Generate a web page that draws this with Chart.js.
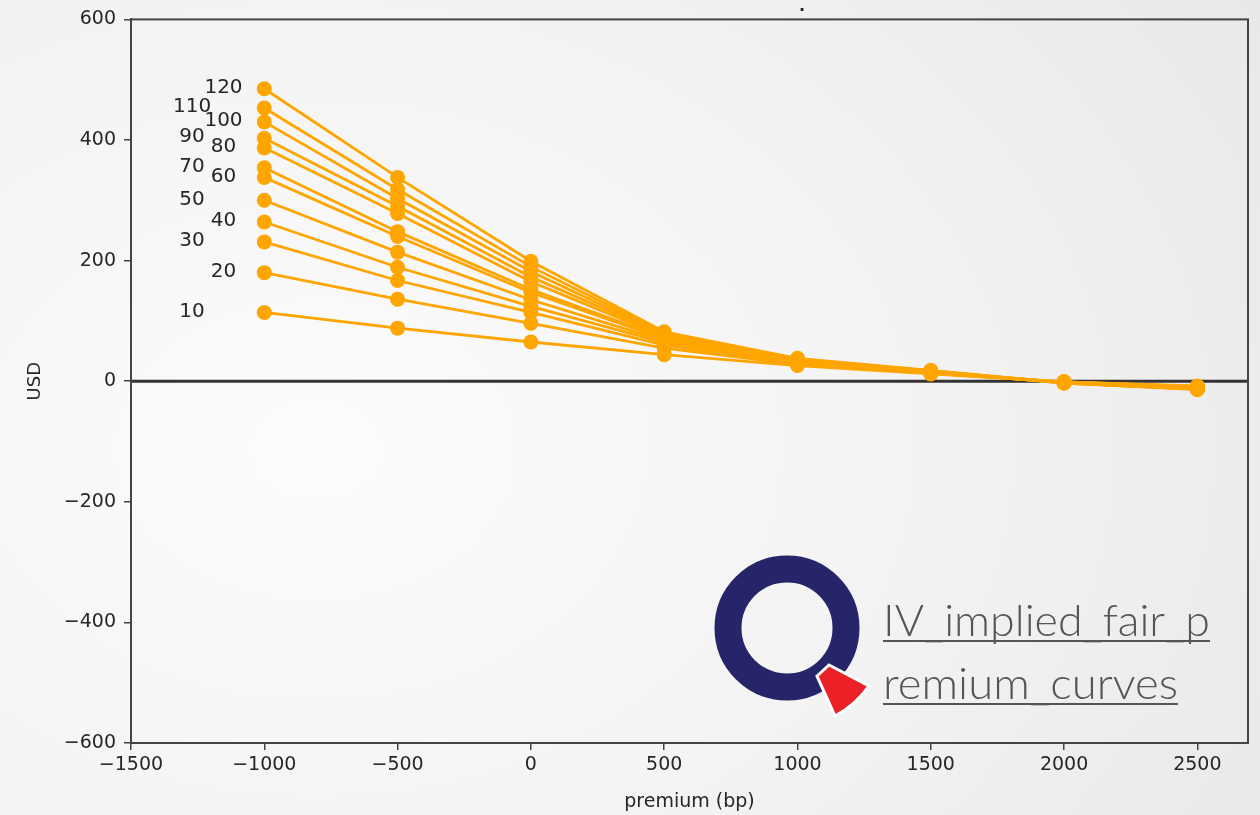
<!DOCTYPE html>
<html>
<head>
<meta charset="utf-8">
<script src="https://cdn.jsdelivr.net/npm/chart.js@4/dist/chart.umd.min.js"></script>
<style>
    html, body { margin: 0; padding: 0; }
    body {
        width: 1260px; height: 815px; overflow: hidden; position: relative;
        background: radial-gradient(ellipse 95% 110% at 25% 55%, #fcfcfc 0%, #f3f3f3 50%, #e7e7e7 100%);
    }
    #wrap { position: absolute; left: 0; top: 0; width: 1260px; height: 815px; }
    #logo { position: absolute; left: 0; top: 0; }
</style>
</head>
<body>
<div id="wrap"><canvas id="chart" width="1260" height="815"></canvas></div>
<svg id="logo" width="1260" height="815">
    <circle cx="787" cy="628" r="59" fill="none" stroke="#27256a" stroke-width="27"/>
    <path d="M829,665 L869,686 A100,100 0 0 1 835,716 L817,676 Z" fill="#ec2027" stroke="#ffffff" stroke-width="3"/>
    <g font-family="Lato, 'Open Sans', sans-serif" font-weight="300" font-size="44" fill="#555555">
        <text x="883" y="636" textLength="327" lengthAdjust="spacingAndGlyphs">IV_implied_fair_p</text>
        <text x="883" y="699" textLength="295" lengthAdjust="spacingAndGlyphs">remium_curves</text>
    </g>
    <rect x="883" y="640" width="327" height="2" fill="#555555"/>
    <rect x="883" y="703" width="295" height="2" fill="#555555"/>
</svg>
<script>
// premium (bp) on the x axis
var premiums = [-1000, -500, 0, 500, 1000, 1500, 2000, 2500];
var curveNames = ["10", "20", "30", "40", "50", "60", "70", "80", "90", "100", "110", "120"];

var usd10  = [114,  88,  65, 44, 26, 12, -1,  -8];
var usd20  = [180, 136,  96, 55, 28, 13, -1,  -9];
var usd30  = [231, 167, 114, 60, 30, 13, -1,  -9];
var usd40  = [264, 189, 124, 64, 31, 14, -2, -10];
var usd50  = [300, 214, 135, 67, 32, 14, -2, -10];
var usd60  = [338, 240, 147, 70, 33, 15, -2, -11];
var usd70  = [354, 248, 152, 72, 34, 15, -2, -11];
var usd80  = [387, 278, 165, 74, 35, 16, -2, -12];
var usd90  = [403, 290, 173, 76, 35, 16, -3, -12];
var usd100 = [430, 303, 182, 78, 36, 17, -3, -13];
var usd110 = [453, 318, 190, 80, 37, 17, -3, -13];
var usd120 = [485, 338, 199, 82, 38, 18, -3, -14];

var curves = [usd10, usd20, usd30, usd40, usd50, usd60, usd70, usd80, usd90, usd100, usd110, usd120];

// where the curve names sit (x in bp), odd ones further left
var labelXOdd = -1271;
var labelXEven = -1153;

var yTicks = [-600, -400, -200, 0, 200, 400, 600];
var xTicks = [-1500, -1000, -500, 0, 500, 1000, 1500, 2000, 2500];

var txtColor = "#262626";
var spineColor = "#444444";

function fmt(v) {
    return v < 0 ? "\u2212" + Math.abs(v) : String(v);
}

var datasets = curves.map(function (vals, i) {
    return {
        label: curveNames[i],
        data: vals.map(function (v, j) { return {x: premiums[j], y: v}; }),
        borderColor: "#FFA500",
        backgroundColor: "#FFA500",
        borderWidth: 2.8,
        pointRadius: 7.5,
        pointBorderWidth: 0,
        pointHoverRadius: 7.5,
        tension: 0
    };
});

var framePlugin = {
    id: "frame",
    beforeDatasetsDraw: function (chart) {
        var ctx = chart.ctx, a = chart.chartArea;
        var y0 = chart.scales.y.getPixelForValue(0);
        ctx.save();
        ctx.strokeStyle = "#333333";
        ctx.lineWidth = 3;
        ctx.beginPath();
        ctx.moveTo(a.left, y0);
        ctx.lineTo(a.right, y0);
        ctx.stroke();
        ctx.restore();
    },
    afterDraw: function (chart) {
        var ctx = chart.ctx, a = chart.chartArea;
        var sx = chart.scales.x, sy = chart.scales.y;
        ctx.save();
        ctx.strokeStyle = spineColor;
        ctx.lineWidth = 2;
        ctx.strokeRect(a.left, a.top, a.right - a.left, a.bottom - a.top);

        // curve names next to the first point
        ctx.fillStyle = txtColor;
        ctx.font = "20px 'DejaVu Sans'";
        ctx.textAlign = "center";
        ctx.textBaseline = "middle";
        curves.forEach(function (vals, i) {
            var lx = (i % 2 === 0) ? labelXOdd : labelXEven;
            ctx.fillText(curveNames[i], sx.getPixelForValue(lx), sy.getPixelForValue(vals[0]) - 1);
        });

        // leftover of the cut-off title
        ctx.font = "bold 16px 'DejaVu Sans'";
        ctx.fillText(".", 802, 7);
        ctx.restore();
    }
};

var ctx = document.getElementById("chart");
var myChart = new Chart(ctx, {
    type: "line",
    data: {datasets: datasets},
    options: {
        responsive: false,
        animation: false,
        events: [],
        layout: {padding: {top: 19, right: 12, left: 0, bottom: 0}},
        plugins: {legend: {display: false}, tooltip: {enabled: false}},
        scales: {
            x: {
                type: "linear",
                min: -1500,
                max: 2690,
                afterFit: function (scale) { scale.height = 72; },
                afterBuildTicks: function (scale) {
                    scale.ticks = xTicks.map(function (v) { return {value: v}; });
                },
                ticks: {
                    color: txtColor,
                    font: {family: "DejaVu Sans", size: 19},
                    padding: 4,
                    maxRotation: 0,
                    callback: function (v) { return fmt(v); }
                },
                grid: {drawOnChartArea: false, drawTicks: true, tickLength: 7, color: spineColor, lineWidth: 1.5},
                border: {display: true, color: spineColor, width: 2},
                title: {
                    display: true,
                    text: "premium (bp)",
                    color: txtColor,
                    font: {family: "DejaVu Sans", size: 19},
                    padding: {top: 0, bottom: 2}
                }
            },
            y: {
                type: "linear",
                min: -600,
                max: 600,
                afterFit: function (scale) { scale.width = 131; },
                afterBuildTicks: function (scale) {
                    scale.ticks = yTicks.map(function (v) { return {value: v}; });
                },
                ticks: {
                    color: txtColor,
                    font: {family: "DejaVu Sans", size: 19},
                    padding: 8,
                    callback: function (v) { return fmt(v); }
                },
                grid: {drawOnChartArea: false, drawTicks: true, tickLength: 7, color: spineColor, lineWidth: 1.5},
                border: {display: true, color: spineColor, width: 2},
                title: {
                    display: true,
                    text: "USD",
                    color: txtColor,
                    font: {family: "DejaVu Sans", size: 18},
                    padding: {top: 25, bottom: 0}
                }
            }
        }
    },
    plugins: [framePlugin]
});
</script>
</body>
</html>
